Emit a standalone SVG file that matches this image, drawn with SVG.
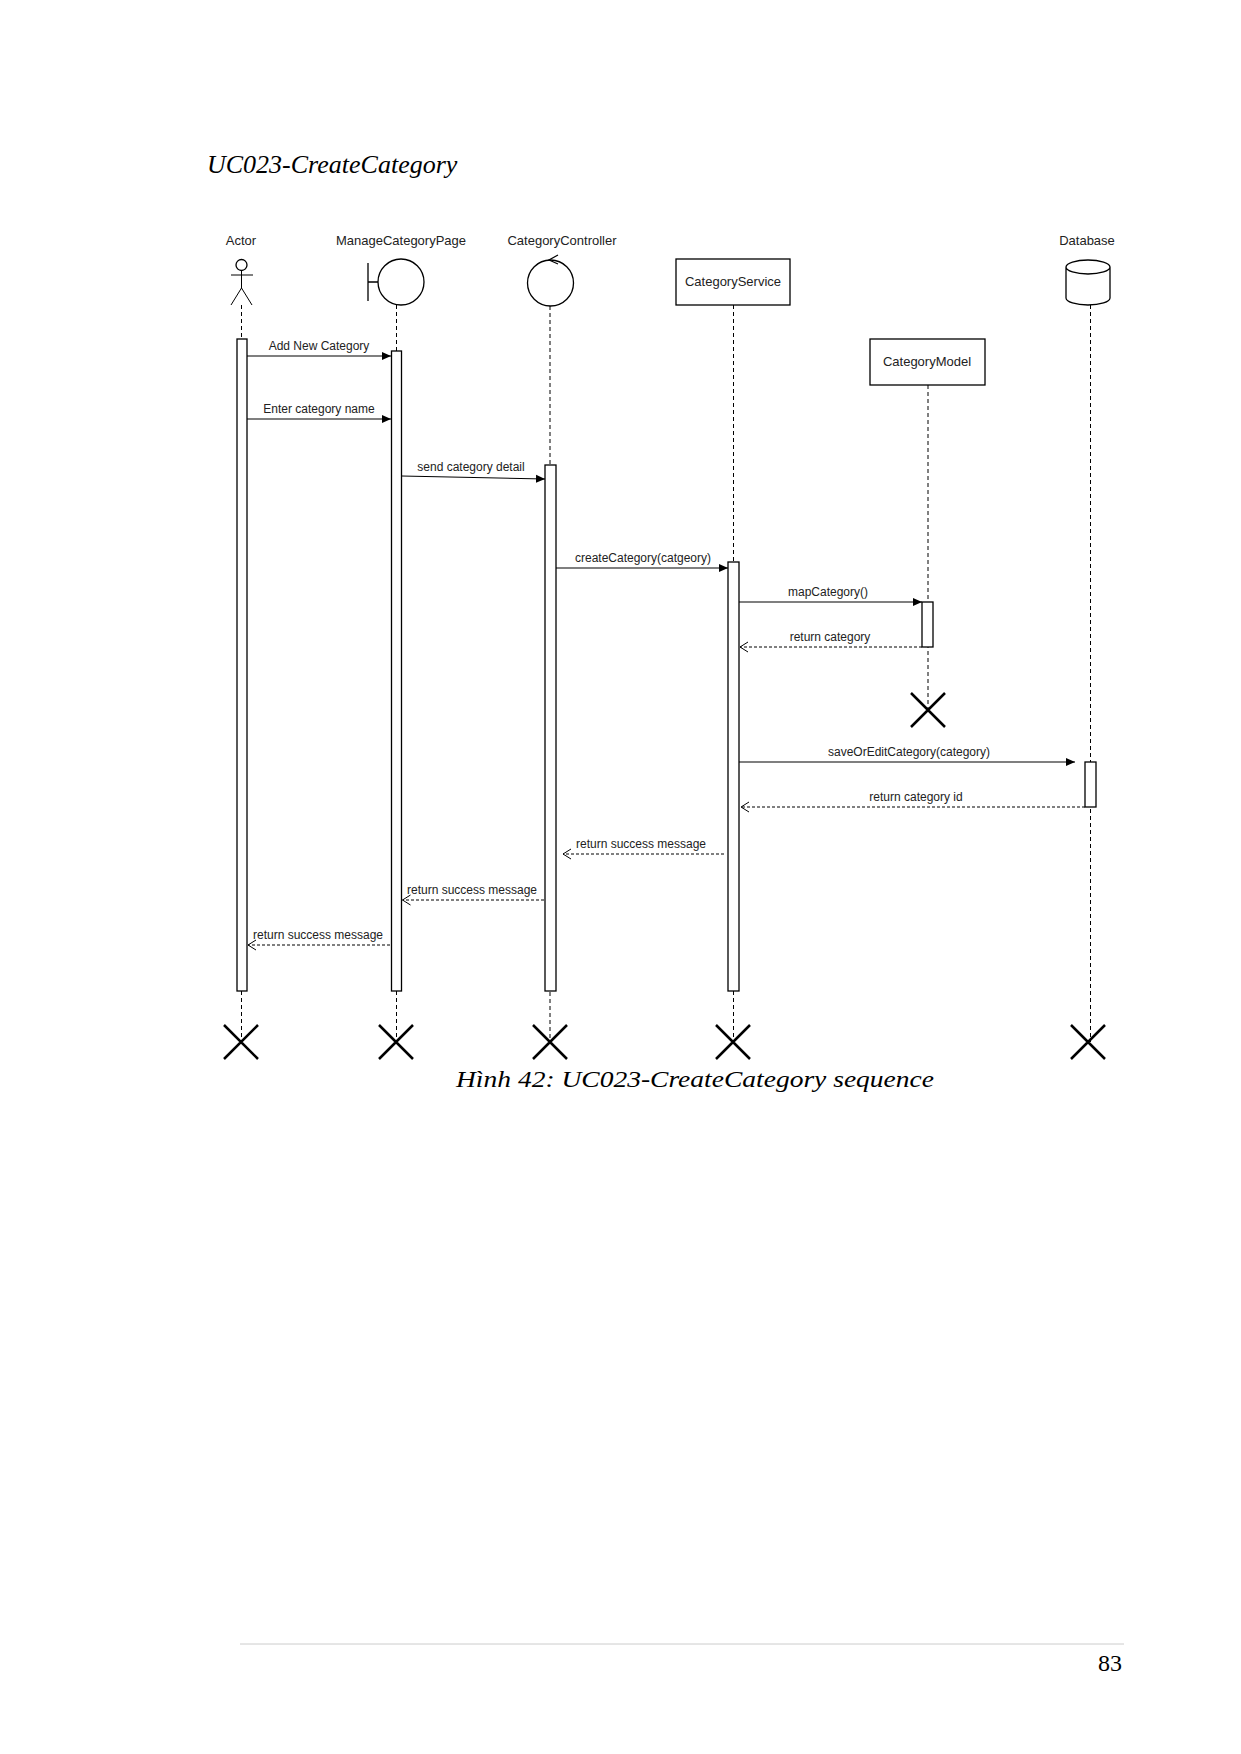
<svg xmlns="http://www.w3.org/2000/svg" width="1241" height="1754" viewBox="0 0 1241 1754">
<style>
.lbl{font-family:"Liberation Sans",Arial,sans-serif;font-size:13px;fill:#222;text-anchor:middle}
.msg{font-family:"Liberation Sans",Arial,sans-serif;font-size:12px;fill:#222;text-anchor:middle}
.ll{stroke:#000;stroke-width:1;stroke-dasharray:4,3;fill:none}
.sh{stroke:#000;stroke-width:1.3;fill:#fff}
.act{stroke:#000;stroke-width:1.3;fill:#fff}
.call{stroke:#000;stroke-width:1.2;fill:none;marker-end:url(#fill)}
.ret{stroke:#000;stroke-width:1;stroke-dasharray:3,2;fill:none;marker-end:url(#open)}
.x{stroke:#000;stroke-width:2.5;fill:none}
</style>
<defs>
<marker id="fill" markerWidth="10" markerHeight="10" refX="9" refY="5" orient="auto" markerUnits="userSpaceOnUse"><path d="M0,1 L9,5 L0,9 Z" fill="#000"/></marker>
<marker id="open" markerWidth="10" markerHeight="12" refX="9" refY="6" orient="auto" markerUnits="userSpaceOnUse"><path d="M1,1 L9,6 L1,11" fill="none" stroke="#000"/></marker>
</defs>
<rect width="1241" height="1754" fill="#fff"/>
<text x="207" y="173" font-family="Liberation Serif,serif" font-style="italic" font-size="26">UC023-CreateCategory</text>

<g id="actor">
<text class="lbl" x="241" y="245">Actor</text>
<circle cx="241.5" cy="265" r="5.5" class="sh"/>
<path d="M241.5,270.5 V288 M231,275 H253 M241.5,288 L231,305 M241.5,288 L252,305" stroke="#000" fill="none"/>
<line class="ll" x1="241.5" y1="305" x2="241.5" y2="1042"/>
<rect class="act" x="237" y="339" width="10" height="652"/>
</g>
<g id="page">
<text class="lbl" x="401" y="245">ManageCategoryPage</text>
<circle cx="401" cy="282" r="23" class="sh"/>
<path d="M368,263 V301 M368,282 H378" stroke="#000" fill="none" stroke-width="1.3"/>
<line class="ll" x1="396.5" y1="305" x2="396.5" y2="1042"/>
<rect class="act" x="391.5" y="351" width="10" height="640"/>
</g>
<g id="controller">
<text class="lbl" x="562" y="245">CategoryController</text>
<circle cx="550.5" cy="283" r="23" class="sh"/>
<path d="M558,255 L549,260 L558,264" stroke="#000" fill="none" stroke-width="1.2"/>
<line class="ll" x1="550" y1="306" x2="550" y2="1042"/>
<rect class="act" x="545" y="465" width="11" height="526"/>
</g>
<g id="service">
<rect class="sh" x="676" y="259" width="114" height="46"/>
<text class="lbl" x="733" y="286">CategoryService</text>
<line class="ll" x1="733.5" y1="305" x2="733.5" y2="1042"/>
<rect class="act" x="728" y="562" width="11" height="429"/>
</g>
<g id="model">
<rect class="sh" x="870" y="339" width="115" height="46"/>
<text class="lbl" x="927" y="366">CategoryModel</text>
<line class="ll" x1="928" y1="385" x2="928" y2="710"/>
<rect class="act" x="922" y="602" width="11" height="45"/>
<path class="x" d="M911,693 L945,727 M945,693 L911,727"/>
</g>
<g id="database">
<text class="lbl" x="1087" y="245">Database</text>
<path class="sh" d="M1066,267 V298 A22,7 0 0 0 1110,298 V267 A22,7 0 0 0 1066,267 A22,7 0 0 0 1110,267"/>
<line class="ll" x1="1090.5" y1="305" x2="1090.5" y2="1042"/>
<rect class="act" x="1085" y="762" width="11" height="45"/>
</g>
<g id="destroys">
<path class="x" d="M224,1025 L258,1059 M258,1025 L224,1059"/>
<path class="x" d="M379,1025 L413,1059 M413,1025 L379,1059"/>
<path class="x" d="M533,1025 L567,1059 M567,1025 L533,1059"/>
<path class="x" d="M716,1025 L750,1059 M750,1025 L716,1059"/>
<path class="x" d="M1071,1025 L1105,1059 M1105,1025 L1071,1059"/>
</g>
<g id="connectors">
<line class="call" x1="247" y1="356" x2="391" y2="356"/>
<text class="msg" x="319" y="350">Add New Category</text>
<line class="call" x1="247" y1="419" x2="391" y2="419"/>
<text class="msg" x="319" y="413">Enter category name</text>
<line class="call" x1="401.5" y1="476" x2="545" y2="479" stroke-width="1.6"/>
<text class="msg" x="471" y="471">send category detail</text>
<line class="call" x1="556" y1="568" x2="728" y2="568"/>
<text class="msg" x="643" y="562">createCategory(catgeory)</text>
<line class="call" x1="739" y1="602" x2="922" y2="602"/>
<text class="msg" x="828" y="596">mapCategory()</text>
<line class="ret" x1="922" y1="647" x2="740" y2="647"/>
<text class="msg" x="830" y="641">return category</text>
<line class="call" x1="739" y1="762" x2="1075" y2="762"/>
<text class="msg" x="909" y="756">saveOrEditCategory(category)</text>
<line class="ret" x1="1085" y1="807" x2="741" y2="807"/>
<text class="msg" x="916" y="801">return category id</text>
<line class="ret" x1="724" y1="854" x2="563" y2="854"/>
<text class="msg" x="641" y="848">return success message</text>
<line class="ret" x1="544" y1="900" x2="402.5" y2="900" stroke-width="1.8"/>
<text class="msg" x="472" y="894">return success message</text>
<line class="ret" x1="390" y1="945" x2="248" y2="945"/>
<text class="msg" x="318" y="939">return success message</text>
</g>
<text x="456" y="1087" font-family="Liberation Serif,serif" font-style="italic" font-size="24" textLength="478" lengthAdjust="spacingAndGlyphs">Hình  42: UC023-CreateCategory sequence</text>
<line x1="240" y1="1644" x2="1124" y2="1644" stroke="#ccc" stroke-width="1"/>
<text x="1122" y="1671" font-family="Liberation Serif,serif" font-size="24" text-anchor="end">83</text>
</svg>
